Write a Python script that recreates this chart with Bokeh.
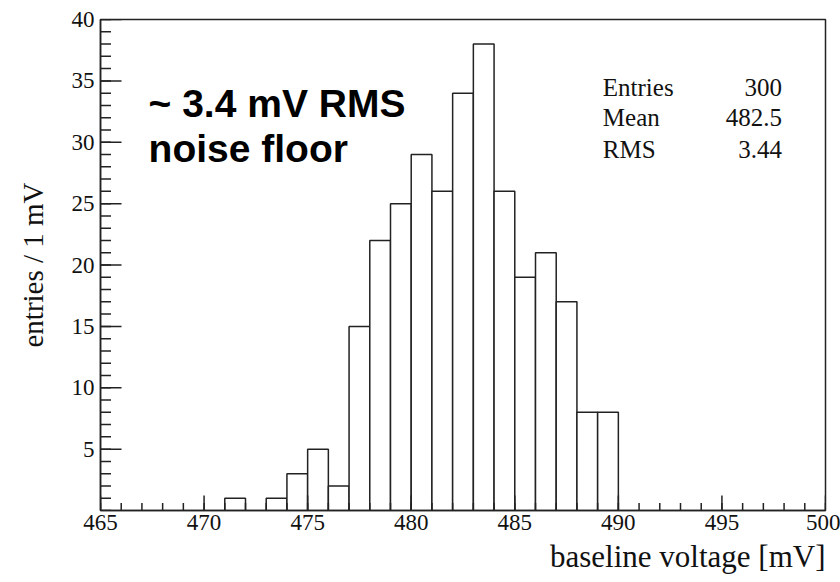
import numpy as np
from bokeh.plotting import figure
from bokeh.models import Range1d, FixedTicker, Label, Title
from bokeh.embed import file_html
from bokeh.resources import INLINE

# ---- data ----
bin_lefts = [471, 473, 474, 475, 476, 477, 478, 479, 480, 481, 482, 483, 484, 485, 486, 487, 488, 489]
counts    = [1,   1,   3,   5,   2,   15,  22,  25,  29,  26,  34,  38,  26,  19,  21,  17,  8,   8]
bin_width = 1.0
x_major_ticks = [465, 470, 475, 480, 485, 490, 495, 500]
x_minor_ticks = list(range(465, 501))
y_major_ticks = [5, 10, 15, 20, 25, 30, 35, 40]
y_minor_ticks = list(range(0, 41))
stat_names  = ["Entries", "Mean", "RMS"]
stat_values = ["300", "482.5", "3.44"]
note_lines  = ["~ 3.4 mV RMS", "noise floor"]

serif = "Liberation Serif"
sans = "Liberation Sans"
ink = "#222222"

x0, x1, y0, y1 = 465, 500, 0, 40
p = figure(width=840, height=582, output_backend="svg", toolbar_location=None,
           x_range=Range1d(x0, x1), y_range=Range1d(y0, y1),
           min_border_left=100, min_border_right=15, min_border_top=19, min_border_bottom=72)
p.background_fill_color = "white"
p.border_fill_color = "white"
p.outline_line_color = ink
p.outline_line_width = 1.5
p.xgrid.visible = False
p.ygrid.visible = False

lefts = np.array(bin_lefts, dtype=float)
p.quad(left=lefts, right=lefts + bin_width, bottom=0, top=counts,
       fill_color="white", line_color=ink, line_width=1.5)

# inward ticks (ROOT style), lengths converted from pixels to data units
px_per_x = 725 / (x1 - x0)
px_per_y = 491 / (y1 - y0)
xm = np.array(x_minor_ticks, dtype=float)
xM = np.array(x_major_ticks, dtype=float)
ym = np.array(y_minor_ticks, dtype=float)
yM = np.array(y_major_ticks, dtype=float)
p.segment(x0=xm, y0=y0, x1=xm, y1=y0 + 7.5 / px_per_y, line_color=ink, line_width=1.5)
p.segment(x0=xM, y0=y0, x1=xM, y1=y0 + 15 / px_per_y, line_color=ink, line_width=1.5)
p.segment(x0=x0, y0=ym, x1=x0 + 10.5 / px_per_x, y1=ym, line_color=ink, line_width=1.5)
p.segment(x0=x0, y0=yM, x1=x0 + 21 / px_per_x, y1=yM, line_color=ink, line_width=1.5)

# x axis
xa = p.xaxis[0]
xa.ticker = FixedTicker(ticks=x_major_ticks)
xa.major_tick_in = 0
xa.major_tick_out = 0
xa.minor_tick_in = 0
xa.minor_tick_out = 0
xa.major_label_text_font = serif
xa.major_label_text_font_size = "23px"
xa.major_label_text_color = "#111111"
xa.major_label_standoff = 4
xa.axis_line_color = ink
xa.axis_line_width = 1.5

# y axis
ya = p.yaxis[0]
ya.ticker = FixedTicker(ticks=y_major_ticks)
ya.major_tick_in = 0
ya.major_tick_out = 0
ya.minor_tick_in = 0
ya.minor_tick_out = 0
ya.major_label_text_font = serif
ya.major_label_text_font_size = "23px"
ya.major_label_text_color = "#111111"
ya.major_label_standoff = 6
ya.axis_label = "entries / 1 mV"
ya.axis_label_text_font = serif
ya.axis_label_text_font_style = "normal"
ya.axis_label_text_font_size = "29px"
ya.axis_label_text_color = "#111111"
ya.axis_label_standoff = 20
ya.axis_line_color = ink
ya.axis_line_width = 1.5

# x axis title, right-aligned under the frame
p.add_layout(Title(text="baseline voltage [mV]", align="right", text_font=serif,
                   text_font_size="31px", text_font_style="normal", text_color="#111111",
                   standoff=8, offset=0), "below")

# stats box text
stat_y = [34.46, 32.0, 29.4]
for name, val, yy in zip(stat_names, stat_values, stat_y):
    p.add_layout(Label(x=489.25, y=yy, text=name, text_font=serif, text_font_size="25px",
                       text_align="left", text_baseline="alphabetic", text_color="#111111"))
    p.add_layout(Label(x=497.9, y=yy, text=val, text_font=serif, text_font_size="25px",
                       text_align="right", text_baseline="alphabetic", text_color="#111111"))

# annotation
note_y = [33.16, 29.49]
for line, yy in zip(note_lines, note_y):
    p.add_layout(Label(x=467.32, y=yy, text=line, text_font=sans, text_font_size="39px",
                       text_font_style="bold", text_align="left", text_baseline="alphabetic",
                       text_color="black"))

open("out.html", "w").write(file_html(p, INLINE))
